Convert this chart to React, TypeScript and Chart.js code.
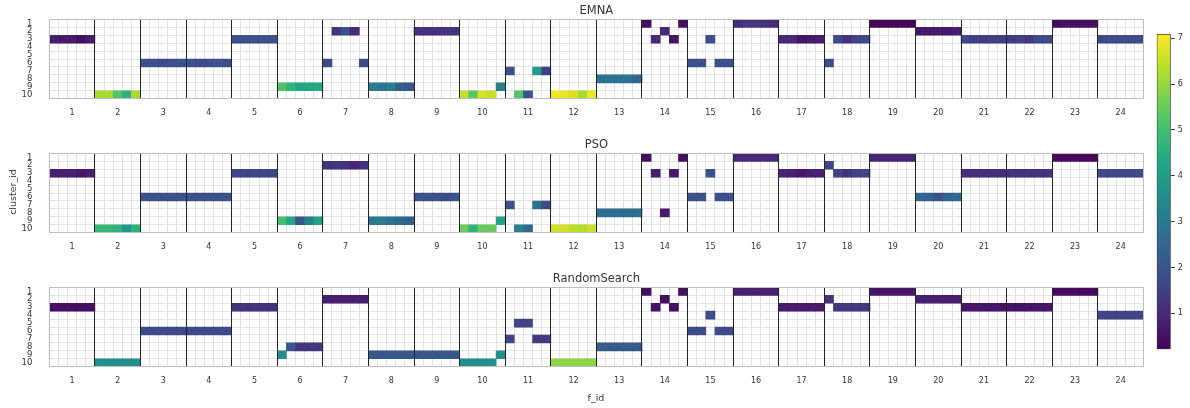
import React, { useEffect, useRef } from "react";
import { Chart, registerables } from "chart.js";

Chart.register(...registerables);

// ---------- data ----------
const F_IDS = [1, 2, 3, 4, 5, 6, 7, 8, 9, 10, 11, 12, 13, 14, 15, 16, 17, 18, 19, 20, 21, 22, 23, 24];
const SUB_COLUMNS = [0, 1, 2, 3, 4];
const CLUSTER_IDS = [1, 2, 3, 4, 5, 6, 7, 8, 9, 10];
const CLUSTER_EDGES = [0.5, 1.5, 2.5, 3.5, 4.5, 5.5, 6.5, 7.5, 8.5, 9.5, 10.5];
const COLORBAR_TICKS = [1, 2, 3, 4, 5, 6, 7];
const COLOR_MIN = 0.214;
const COLOR_MAX = 7.094;

// each run: [f_id, cluster_id, first sub-column, values of consecutive sub-columns]
type Run = [number, number, number, number[]];

const EMNA_RUNS: Run[] = [
  [1, 3, 0, [0.8, 0.7, 0.7, 0.5, 0.8]],
  [2, 10, 0, [6.2, 6.2, 5.2, 4.6, 6.2]],
  [3, 6, 0, [1.9, 1.9, 1.8, 1.9, 1.9]],
  [4, 6, 0, [1.9, 1.8, 1.8, 1.9, 1.8]],
  [5, 3, 0, [2.0, 2.0, 2.0, 2.0, 2.0]],
  [6, 9, 0, [5.2, 4.7, 4.3, 4.3, 4.4]],
  [7, 2, 1, [1.3, 1.9, 1.0]],
  [7, 6, 0, [1.8]],
  [7, 6, 4, [1.8]],
  [8, 9, 0, [3.1, 2.9, 3.1, 2.2, 2.1]],
  [9, 2, 0, [1.2, 1.2, 1.2, 1.2, 1.2]],
  [10, 10, 0, [6.5, 5.3, 6.7, 6.5]],
  [10, 9, 4, [3.2]],
  [11, 7, 0, [1.9]],
  [11, 7, 3, [4.0, 1.5]],
  [11, 10, 1, [5.2, 2.1]],
  [12, 10, 0, [7.0, 6.9, 6.7, 6.2, 6.9]],
  [13, 8, 0, [2.8, 2.8, 2.8, 2.8, 2.5]],
  [14, 1, 0, [0.5]],
  [14, 1, 4, [0.5]],
  [14, 2, 2, [1.1]],
  [14, 3, 1, [1.0]],
  [14, 3, 3, [0.6]],
  [15, 3, 2, [1.9]],
  [15, 6, 0, [1.9, 1.9]],
  [15, 6, 3, [1.9, 1.9]],
  [16, 1, 0, [1.1, 1.3, 1.3, 1.2, 1.1]],
  [17, 3, 0, [1.0, 1.0, 0.6, 0.7, 0.8]],
  [18, 3, 1, [1.8, 1.2, 1.6, 1.7]],
  [18, 6, 0, [1.8]],
  [19, 1, 0, [0.3, 0.3, 0.3, 0.3, 0.3]],
  [20, 2, 0, [0.7, 0.7, 0.7, 0.7, 0.8]],
  [21, 3, 0, [1.7, 1.5, 1.4, 1.5, 1.5]],
  [22, 3, 0, [1.4, 1.5, 1.3, 1.8, 1.8]],
  [23, 1, 0, [0.4, 0.5, 0.5, 0.5, 0.5]],
  [24, 3, 0, [1.8, 1.8, 1.8, 1.8, 1.8]],
];

const PSO_RUNS: Run[] = [
  [1, 3, 0, [0.8, 0.8, 0.8, 0.6, 0.8]],
  [2, 10, 0, [4.8, 4.8, 4.6, 3.8, 4.6]],
  [3, 6, 0, [1.9, 1.9, 1.9, 1.9, 1.9]],
  [4, 6, 0, [1.9, 1.9, 1.9, 1.9, 1.9]],
  [5, 3, 0, [1.6, 1.6, 1.6, 1.6, 1.6]],
  [6, 9, 0, [5.0, 4.3, 2.0, 3.2, 4.2]],
  [7, 2, 0, [1.2, 1.3, 1.2, 0.9, 1.2]],
  [8, 9, 0, [3.0, 3.0, 2.8, 2.6, 2.4]],
  [9, 6, 0, [2.0, 1.9, 1.9, 1.8, 1.9]],
  [10, 10, 0, [5.5, 4.6, 5.5, 5.5]],
  [10, 9, 4, [4.2]],
  [11, 7, 0, [1.9]],
  [11, 7, 3, [2.8, 1.8]],
  [11, 10, 1, [3.2, 2.6]],
  [12, 10, 0, [6.6, 6.6, 6.4, 6.3, 6.6]],
  [13, 8, 0, [2.7, 2.7, 2.7, 2.7, 2.7]],
  [14, 1, 0, [0.5]],
  [14, 1, 4, [0.5]],
  [14, 3, 1, [0.8]],
  [14, 3, 3, [0.7]],
  [14, 8, 2, [0.7]],
  [15, 3, 2, [1.9]],
  [15, 6, 0, [1.9, 1.9]],
  [15, 6, 3, [1.9, 1.9]],
  [16, 1, 0, [1.0, 1.0, 1.0, 1.0, 1.0]],
  [17, 3, 0, [0.9, 0.8, 0.6, 0.8, 0.8]],
  [18, 2, 0, [1.6]],
  [18, 3, 1, [1.6, 1.2, 1.5, 1.6]],
  [19, 1, 0, [0.9, 0.9, 0.9, 0.9, 0.9]],
  [20, 6, 0, [2.5, 2.4, 2.0, 2.4, 2.5]],
  [21, 3, 0, [1.1, 1.1, 1.1, 1.1, 1.1]],
  [22, 3, 0, [1.2, 1.2, 1.2, 1.2, 1.2]],
  [23, 1, 0, [0.4, 0.4, 0.4, 0.4, 0.4]],
  [24, 3, 0, [1.7, 1.7, 1.7, 1.7, 1.7]],
];

const RANDOM_RUNS: Run[] = [
  [1, 3, 0, [0.5, 0.5, 0.5, 0.5, 0.5]],
  [2, 10, 0, [3.6, 3.6, 3.6, 3.6, 3.6]],
  [3, 6, 0, [1.7, 1.7, 1.7, 1.7, 1.7]],
  [4, 6, 0, [1.7, 1.7, 1.7, 1.7, 1.7]],
  [5, 3, 0, [1.2, 1.2, 1.2, 1.2, 1.2]],
  [6, 9, 0, [3.6]],
  [6, 8, 1, [2.1, 1.3, 1.3, 1.3]],
  [7, 2, 0, [0.8, 0.8, 0.8, 0.8, 0.8]],
  [8, 9, 0, [2.1, 2.1, 2.1, 2.1, 2.1]],
  [9, 9, 0, [2.1, 2.1, 2.1, 2.1, 2.1]],
  [10, 10, 0, [3.6, 3.6, 3.6, 3.6]],
  [10, 9, 4, [3.6]],
  [11, 5, 1, [1.6, 1.6]],
  [11, 7, 0, [1.6]],
  [11, 7, 3, [1.4, 1.4]],
  [12, 10, 0, [5.9, 5.9, 5.9, 5.9, 5.9]],
  [13, 8, 0, [2.2, 2.2, 2.2, 2.2, 2.2]],
  [14, 1, 0, [0.5]],
  [14, 1, 4, [0.5]],
  [14, 2, 2, [0.5]],
  [14, 3, 1, [0.5]],
  [14, 3, 3, [0.5]],
  [15, 4, 2, [1.8]],
  [15, 6, 0, [1.8, 1.8]],
  [15, 6, 3, [1.8, 1.8]],
  [16, 1, 0, [0.8, 0.8, 0.8, 0.8, 0.8]],
  [17, 3, 0, [0.7, 0.7, 0.7, 0.7, 0.7]],
  [18, 2, 0, [1.2]],
  [18, 3, 1, [1.3, 1.3, 1.3, 1.3]],
  [19, 1, 0, [0.6, 0.6, 0.6, 0.6, 0.6]],
  [20, 2, 0, [0.8, 0.8, 0.8, 0.8, 0.8]],
  [21, 3, 0, [0.6, 0.6, 0.6, 0.6, 0.6]],
  [22, 3, 0, [0.6, 0.6, 0.6, 0.6, 0.6]],
  [23, 1, 0, [0.4, 0.4, 0.4, 0.4, 0.4]],
  [24, 4, 0, [1.6, 1.6, 1.6, 1.6, 1.6]],
];

// ---------- style ----------
const FONT = "'DejaVu Sans', sans-serif";
const TEXT = "#333333";
const GRID = "#e4e4e4";
const FRAME = "#bdbdbd";
const DIVIDER = "#262626";
const CLEAR = "rgba(0,0,0,0)";

const VIRIDIS = [
  "#440154", "#482475", "#414487", "#355f8d", "#2a788e", "#21918c",
  "#22a884", "#44bf70", "#7ad151", "#bddf26", "#fde725",
];

function hexToRgb(h: string) {
  return [parseInt(h.slice(1, 3), 16), parseInt(h.slice(3, 5), 16), parseInt(h.slice(5, 7), 16)];
}

function viridis(v: number) {
  let t = (v - COLOR_MIN) / (COLOR_MAX - COLOR_MIN);
  t = Math.max(0, Math.min(1, t));
  const p = t * (VIRIDIS.length - 1);
  const i = Math.min(VIRIDIS.length - 2, Math.floor(p));
  const f = p - i;
  const a = hexToRgb(VIRIDIS[i]);
  const b = hexToRgb(VIRIDIS[i + 1]);
  const c = a.map((x, k) => Math.round(x + (b[k] - x) * f));
  return `rgb(${c[0]},${c[1]},${c[2]})`;
}

const COLUMN_LABELS = F_IDS.flatMap((f) => SUB_COLUMNS.map((s) => `${f}:${s}`));

function HeatPanel({ title, runs, top }: { title: string; runs: Run[]; top: number }) {
  const ref = useRef<HTMLCanvasElement | null>(null);
  useEffect(() => {
    const cells = runs.flatMap(([f, cl, start, vals]) =>
      vals.map((v, k) => ({ x: `${f}:${start + k}`, y: [cl - 0.5, cl + 0.5], v }))
    );
    const chart = new Chart(ref.current as HTMLCanvasElement, {
      type: "bar",
      data: {
        labels: COLUMN_LABELS,
        datasets: [
          {
            data: cells.map((c) => ({ x: c.x, y: c.y })) as any,
            backgroundColor: cells.map((c) => viridis(c.v)),
            borderWidth: 0,
            barPercentage: 1,
            categoryPercentage: 1,
            xAxisID: "x",
            yAxisID: "y",
          },
        ],
      },
      options: {
        responsive: false,
        animation: false,
        layout: { padding: { top: 3.8, right: 46.5, left: 0, bottom: 0 } },
        plugins: {
          legend: { display: false },
          tooltip: { enabled: false },
          title: {
            display: true,
            text: title,
            fullSize: false,
            color: TEXT,
            font: { family: FONT, size: 11.5, weight: "normal" as any },
            padding: { top: 0, bottom: 1.8 },
          },
        },
        scales: {
          x: {
            type: "category",
            position: "bottom",
            offset: true,
            grid: { offset: true, color: GRID, lineWidth: 1, drawTicks: false },
            border: { display: false },
            ticks: {
              autoSkip: false,
              maxRotation: 0,
              minRotation: 0,
              padding: 9,
              color: TEXT,
              font: { family: FONT, size: 8 },
              callback: (_v: any, idx: number) =>
                idx % 5 === 2 ? String(F_IDS[Math.floor(idx / 5)]) : "",
            },
            afterFit: (s: any) => {
              s.height = 35.3;
            },
          },
          xd: {
            type: "category",
            position: "bottom",
            offset: true,
            grid: {
              offset: true,
              z: 1,
              drawTicks: false,
              lineWidth: 1,
              color: (ctx: any) => {
                if (ctx.index === undefined || ctx.index === 0) return FRAME;
                return ctx.index % 5 === 0 ? DIVIDER : CLEAR;
              },
            },
            border: { display: false },
            ticks: { display: false, autoSkip: false },
            afterFit: (s: any) => {
              s.height = 0;
            },
          },
          y: {
            type: "linear",
            position: "left",
            min: 0.5,
            max: 10.5,
            reverse: true,
            grid: { display: false },
            border: { display: false },
            ticks: { autoSkip: false, padding: 9, color: TEXT, font: { family: FONT, size: 8.5 } },
            afterBuildTicks: (s: any) => {
              s.ticks = CLUSTER_IDS.map((v) => ({ value: v }));
            },
            afterFit: (s: any) => {
              s.width = 49.3;
            },
          },
          yg: {
            type: "linear",
            position: "left",
            min: 0.5,
            max: 10.5,
            reverse: true,
            grid: { color: GRID, lineWidth: 1, drawTicks: false },
            border: { display: false },
            ticks: { display: false, autoSkip: false },
            afterBuildTicks: (s: any) => {
              s.ticks = CLUSTER_EDGES.map((v) => ({ value: v }));
            },
            afterFit: (s: any) => {
              s.width = 0;
            },
          },
          yf: {
            type: "linear",
            position: "left",
            min: 0.5,
            max: 10.5,
            reverse: true,
            grid: { color: FRAME, lineWidth: 1, drawTicks: false, z: 1 },
            border: { display: false },
            ticks: { display: false, autoSkip: false },
            afterBuildTicks: (s: any) => {
              s.ticks = [CLUSTER_EDGES[0], CLUSTER_EDGES[CLUSTER_EDGES.length - 1]].map((v) => ({ value: v }));
            },
            afterFit: (s: any) => {
              s.width = 0;
            },
          },
        } as any,
      },
    });
    return () => chart.destroy();
  }, [title, runs]);
  return (
    <canvas
      ref={ref}
      width={1190}
      height={134}
      style={{ position: "absolute", left: 0, top, width: 1190, height: 134 }}
    />
  );
}

function ColorBar() {
  const ref = useRef<HTMLCanvasElement | null>(null);
  useEffect(() => {
    const chart = new Chart(ref.current as HTMLCanvasElement, {
      type: "bar",
      data: {
        labels: ["colorbar"],
        datasets: [
          {
            data: [[COLOR_MIN, COLOR_MAX]] as any,
            backgroundColor: (ctx: any) => {
              const area = ctx.chart.chartArea;
              if (!area) return VIRIDIS[0];
              const g = ctx.chart.ctx.createLinearGradient(0, area.bottom, 0, area.top);
              VIRIDIS.forEach((c, i) => g.addColorStop(i / (VIRIDIS.length - 1), c));
              return g;
            },
            borderColor: "#3a3a3a",
            borderWidth: 1,
            borderSkipped: false,
            barPercentage: 1,
            categoryPercentage: 1,
          },
        ],
      },
      options: {
        responsive: false,
        animation: false,
        layout: { padding: { left: 6.7, top: 34, bottom: 58.7, right: 0 } },
        plugins: { legend: { display: false }, tooltip: { enabled: false } },
        scales: {
          x: { display: false },
          y: {
            type: "linear",
            position: "right",
            min: COLOR_MIN,
            max: COLOR_MAX,
            grid: { drawOnChartArea: false, drawTicks: true, tickLength: 4, color: "#3a3a3a" },
            border: { display: false },
            ticks: { autoSkip: false, padding: 3, color: TEXT, font: { family: FONT, size: 8 } },
            afterBuildTicks: (s: any) => {
              s.ticks = COLORBAR_TICKS.map((v) => ({ value: v }));
            },
            afterFit: (s: any) => {
              s.width = 19.3;
            },
          },
        } as any,
      },
    });
    return () => chart.destroy();
  }, []);
  return (
    <canvas
      ref={ref}
      width={40}
      height={408}
      style={{ position: "absolute", left: 1150, top: 0, width: 40, height: 408 }}
    />
  );
}

export default function App() {
  return (
    <div
      style={{
        position: "absolute",
        left: 0,
        top: 0,
        width: 1190,
        height: 408,
        background: "#ffffff",
        overflow: "hidden",
        fontFamily: FONT,
        color: TEXT,
      }}
    >
      <HeatPanel title="EMNA" runs={EMNA_RUNS} top={0} />
      <HeatPanel title="PSO" runs={PSO_RUNS} top={134} />
      <HeatPanel title="RandomSearch" runs={RANDOM_RUNS} top={268} />
      <ColorBar />
      <div
        style={{
          position: "absolute",
          left: 13 - 40,
          top: 192 - 6,
          width: 80,
          height: 12,
          lineHeight: "12px",
          fontSize: 9.5,
          textAlign: "center",
          transform: "rotate(-90deg)",
        }}
      >
        cluster_id
      </div>
      <div
        style={{
          position: "absolute",
          left: 566,
          top: 392,
          width: 60,
          height: 12,
          lineHeight: "12px",
          fontSize: 9.5,
          textAlign: "center",
        }}
      >
        f_id
      </div>
    </div>
  );
}
